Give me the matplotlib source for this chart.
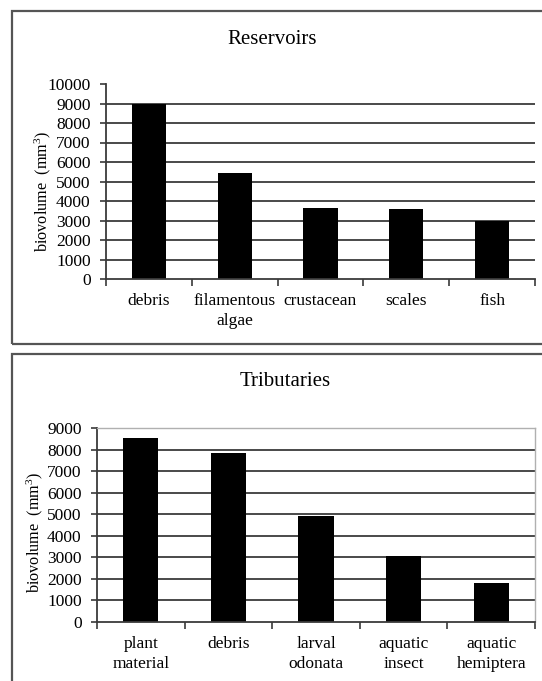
import matplotlib
matplotlib.use('Agg')
import matplotlib.pyplot as plt
import numpy as np
from matplotlib.patches import Rectangle

# reservoirs panel
res_labels = ['debris', 'filamentous\nalgae', 'crustacean', 'scales', 'fish']
res_values = [9000, 5450, 3650, 3600, 3000]
res_yticks = np.arange(0, 10001, 1000)

# tributaries panel
trib_labels = ['plant\nmaterial', 'debris', 'larval\nodonata', 'aquatic\ninsect', 'aquatic\nhemiptera']
trib_values = [8550, 7850, 4900, 3050, 1800]
trib_yticks = np.arange(0, 9001, 1000)

plt.rcParams['font.family'] = 'Liberation Serif'
plt.rcParams['mathtext.fontset'] = 'custom'
plt.rcParams['mathtext.rm'] = 'Liberation Serif'
plt.rcParams['mathtext.it'] = 'Liberation Serif:italic'

W, H = 542.0, 681.0
fig = plt.figure(figsize=(W / 100, H / 100), dpi=100)


def px_axes(left, right, top, bottom):
    return fig.add_axes([left / W, 1 - bottom / H, (right - left) / W, (bottom - top) / H])


def draw_panel(ax, labels, values, yticks, framed):
    ind = np.arange(len(values))
    for v in yticks[1:-1]:
        ax.axhline(v, color='#3a3a3a', lw=1.3, zorder=1)
    ax.bar(ind, values, 0.4, color='black', zorder=2)
    ax.set_xlim(-0.5, len(values) - 0.5)
    ax.set_ylim(yticks[0], yticks[-1])
    ax.set_yticks(yticks)
    ax.set_xticks(ind)
    ax.set_xticklabels(labels, fontsize=12.5, linespacing=1.35)
    ax.set_xticks(np.arange(len(values) + 1) - 0.5, minor=True)
    ax.tick_params(axis='x', which='major', length=0, pad=10)
    ax.tick_params(axis='x', which='minor', length=5, width=1.2, color='#3a3a3a', direction='out')
    ax.tick_params(axis='y', length=4, width=1.2, color='#3a3a3a', labelsize=12.5, pad=7)
    for s in ['left', 'bottom']:
        ax.spines[s].set_color('#3a3a3a')
        ax.spines[s].set_linewidth(1.3)
    for s in ['top', 'right']:
        if framed:
            ax.spines[s].set_color('#b0b0b0')
            ax.spines[s].set_linewidth(1.0)
        else:
            ax.spines[s].set_visible(False)


# panel frames
fig.patches.append(Rectangle((12 / W, 1 - 344 / H), 540 / W, 333 / H, transform=fig.transFigure,
                             fill=False, edgecolor='#555555', lw=1.6))
fig.patches.append(Rectangle((12 / W, 1 - 700 / H), 540 / W, 346 / H, transform=fig.transFigure,
                             fill=False, edgecolor='#555555', lw=1.6))

ax1 = px_axes(106, 535, 84, 279)
draw_panel(ax1, res_labels, res_values, res_yticks, False)
fig.text(272 / W, 1 - 39 / H, 'Reservoirs', ha='center', va='center', fontsize=15)
fig.text(43 / W, 1 - 191 / H, 'biovolume  (mm$^3$)', rotation=90, ha='center', va='center', fontsize=11.7)

ax2 = px_axes(97, 535, 428, 622)
draw_panel(ax2, trib_labels, trib_values, trib_yticks, True)
fig.text(285 / W, 1 - 382 / H, 'Tributaries', ha='center', va='center', fontsize=15)
fig.text(35 / W, 1 - 532 / H, 'biovolume  (mm$^3$)', rotation=90, ha='center', va='center', fontsize=11.7)

fig.savefig('out.png', dpi=100)
